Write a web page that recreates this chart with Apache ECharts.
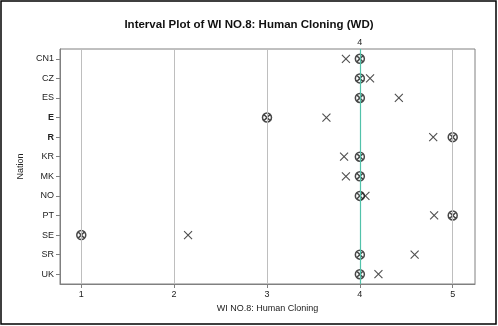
<!DOCTYPE html>
<html>
<head>
<meta charset="utf-8">
<script src="https://cdn.jsdelivr.net/npm/echarts@6/dist/echarts.min.js"></script>
<style>
  html, body { margin: 0; padding: 0; background: #fff; }
  #chart { width: 498px; height: 326px; }
</style>
</head>
<body>
<div id="chart"></div>
<script>
// Nations on the vertical axis, top to bottom
const nations = ['CN1', 'CZ', 'ES', 'E', 'R', 'KR', 'MK', 'NO', 'PT', 'SE', 'SR', 'UK'];
// Circled-x markers (median response per nation)
const circleValues = [4, 4, 4, 3, 5, 4, 4, 4, 5, 1, 4, 4];
// Plain x markers (mean response per nation)
const crossValues = [3.85, 4.11, 4.42, 3.64, 4.79, 3.83, 3.85, 4.06, 4.80, 2.15, 4.59, 4.20];
// Tick positions on the response axis
const xTicks = [1, 2, 3, 4, 5];
// Reference value marked with a labelled line
const refValue = 4;

const FONT = '"Liberation Sans", Arial, sans-serif';
const crossPath = 'path://M0,0L10,10M10,0L0,10';
const circledCrossPath = 'path://M10,5A5,5,0,1,1,0,5A5,5,0,1,1,10,5ZM1.6,1.6L8.4,8.4M8.4,1.6L1.6,8.4';

const X_MIN = 0.771, X_MAX = 5.24;

const chart = echarts.init(document.getElementById('chart'), null, { renderer: 'canvas' });

const gridLines = xTicks.filter(v => v !== refValue).map(v => ({
  xAxis: v,
  lineStyle: { color: '#BEBEBE', width: 1, type: 'solid' },
  label: { show: false }
}));

chart.setOption({
  animation: false,
  backgroundColor: '#fff',
  title: {
    text: 'Interval Plot of WI NO.8: Human Cloning (WD)',
    left: 'center',
    top: 14,
    textStyle: { fontFamily: FONT, fontSize: 11.5, fontWeight: 'bold', color: '#111' }
  },
  graphic: [{
    type: 'rect',
    shape: { x: 1, y: 1, width: 495, height: 323 },
    style: { fill: 'none', stroke: '#000', lineWidth: 1.5 },
    silent: true,
    z: 100
  }],
  grid: {
    left: 60, right: 23, top: 49, bottom: 42,
    show: true, borderColor: '#808080', borderWidth: 1, backgroundColor: 'transparent'
  },
  xAxis: [
    {
      type: 'value',
      min: X_MIN,
      max: X_MAX,
      name: 'WI NO.8: Human Cloning',
      nameLocation: 'middle',
      nameGap: 14,
      nameTextStyle: { fontFamily: FONT, fontSize: 9, color: '#222' },
      axisLine: { show: true, lineStyle: { color: '#808080', width: 1 } },
      axisTick: { show: true, length: 4, customValues: xTicks, lineStyle: { color: '#808080' } },
      axisLabel: { customValues: xTicks, fontFamily: FONT, fontSize: 9, color: '#222', margin: 6 },
      splitLine: { show: false }
    },
    {
      // top axis carrying only the reference value label
      type: 'value',
      position: 'top',
      min: X_MIN,
      max: X_MAX,
      axisLine: { show: false },
      axisTick: { show: false },
      axisLabel: { customValues: [refValue], fontFamily: FONT, fontSize: 9, color: '#222', margin: 2 },
      splitLine: { show: false }
    }
  ],
  yAxis: {
    type: 'category',
    data: nations,
    inverse: true,
    boundaryGap: true,
    name: 'Nation',
    nameLocation: 'middle',
    nameGap: 34,
    nameTextStyle: { fontFamily: FONT, fontSize: 9, color: '#222' },
    axisLine: { show: true, lineStyle: { color: '#808080', width: 1 } },
    axisTick: { show: true, length: 4, alignWithLabel: true, lineStyle: { color: '#808080' } },
    axisLabel: {
      fontFamily: FONT, fontSize: 9, color: '#222', margin: 6,
      formatter: v => (v === 'E' || v === 'R') ? '{b|' + v + '}' : v,
      rich: { b: { fontFamily: FONT, fontSize: 9, fontWeight: 'bold', color: '#222' } }
    },
    splitLine: { show: false }
  },
  series: [
    {
      // vertical gridlines and the reference line
      type: 'scatter',
      data: [],
      z: 1,
      markLine: {
        silent: true,
        symbol: 'none',
        animation: false,
        data: [
          ...gridLines,
          {
            xAxis: refValue,
            lineStyle: { color: '#52C2AA', width: 1.2, type: 'solid' },
            label: { show: false }
          }
        ]
      }
    },
    {
      name: 'cross',
      type: 'scatter',
      z: 3,
      symbol: crossPath,
      symbolSize: 8,
      itemStyle: { color: 'none', borderColor: '#222', borderWidth: 1.1 },
      data: crossValues.map((v, i) => [v, nations[i]])
    },
    {
      name: 'circled',
      type: 'scatter',
      z: 4,
      symbol: circledCrossPath,
      symbolSize: 9,
      itemStyle: { color: 'none', borderColor: '#1a1a1a', borderWidth: 1.5 },
      data: circleValues.map((v, i) => [v, nations[i]])
    }
  ]
});
</script>
</body>
</html>
